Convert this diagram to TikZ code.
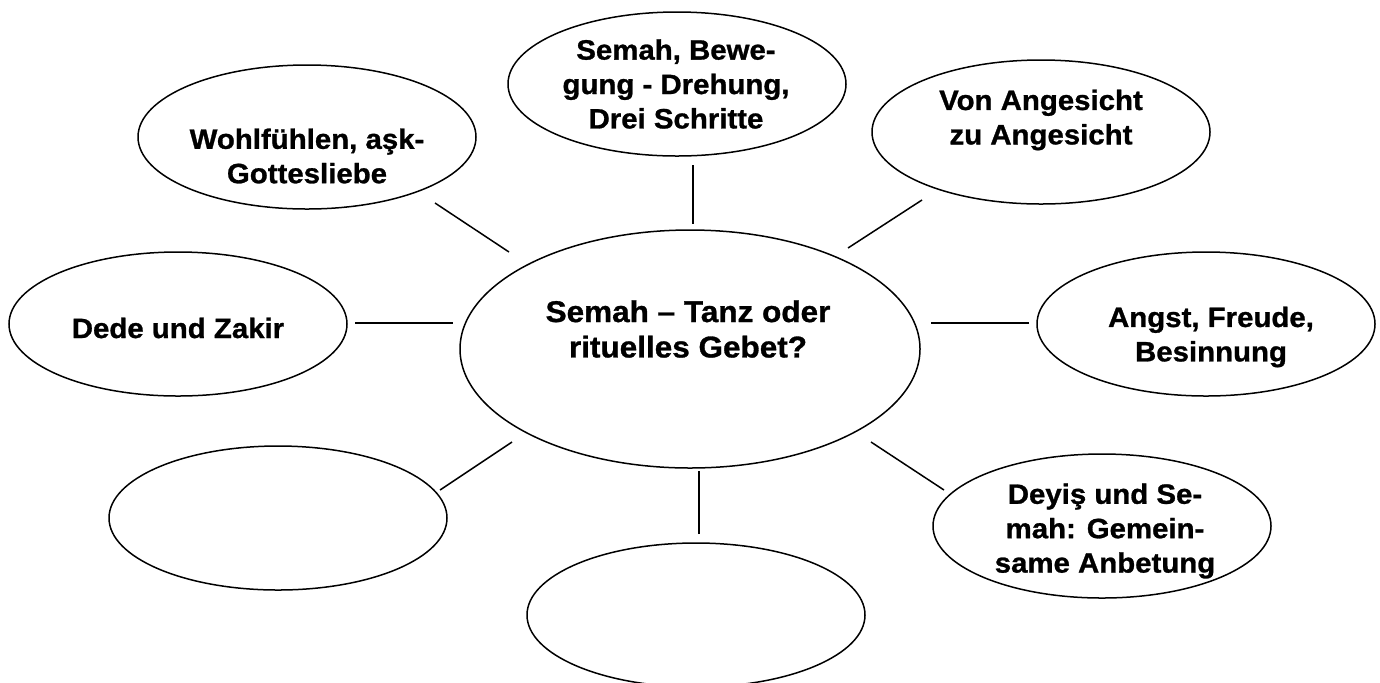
\documentclass[tikz,border=0pt]{standalone}
\usepackage{fontspec}
\setmainfont{Liberation Sans}[FakeStretch=1.05, BoldFeatures={FakeBold=1}]
\usetikzlibrary{shapes.geometric}
\tikzset{
  bub/.style={ellipse, draw, line width=0.75pt, inner sep=0pt, fill=white},
  small/.style={bub, minimum width=169pt, minimum height=72pt},
  txt/.style={align=center, inner sep=0pt, font=\bfseries\fontsize{14}{17.2}\selectfont},
  bigtxt/.style={align=center, inner sep=0pt, font=\bfseries\fontsize{15}{17.7}\selectfont},
  conn/.style={line width=0.75pt}
}
\begin{document}
\begin{tikzpicture}[x=0.5pt, y=-0.5pt]
\useasboundingbox (0,0) rectangle (1380,682);
\clip (0,0) rectangle (1380,682);
\fill[white] (0,0) rectangle (1380,682);
% ellipses
\node[small] (top) at (677,84) {};
\node[small] (wohl) at (307,137) {};
\node[small] (von) at (1041,132) {};
\node[small] (dede) at (178,324) {};
\node[small] (angst) at (1206,324) {};
\node[bub, minimum width=230pt, minimum height=119pt] (mid) at (690,349) {};
\node[small] (bl) at (278,518) {};
\node[small] (bc) at (696,615) {};
\node[small] (deyis) at (1102,526) {};
% texts
\node[txt] (ttop) at (676,84) {Semah, Bewe-\\gung - Drehung,\\Drei Schritte};
\node[txt] (twohl) at (307,156) {Wohlfühlen, aşk-\\Gottesliebe};
\node[txt] (tvon) at (1041,120) {Von Angesicht\\zu Angesicht};
\node[txt] (tdede) at (178,328) {Dede und Zakir};
\node[txt] (tangst) at (1211,337) {Angst, Freude,\\Besinnung};
\node[bigtxt] (tmid) at (688,329) {Semah – Tanz oder\\rituelles Gebet?};
\node[txt] (tdeyis) at (1105,531) {Deyiş und Se-\\mah: Gemein-\\same Anbetung};
% connector ends
\coordinate (a1) at (435,203); \coordinate (b1) at (509,252);
\coordinate (a2) at (693,165); \coordinate (b2) at (693,224);
\coordinate (a3) at (922,200); \coordinate (b3) at (848,248);
\coordinate (a4) at (355,323); \coordinate (b4) at (453,323);
\coordinate (a5) at (1029,323); \coordinate (b5) at (931,323);
\coordinate (a6) at (440,490); \coordinate (b6) at (512,442);
\coordinate (a7) at (699,534); \coordinate (b7) at (699,471);
\coordinate (a8) at (944,490); \coordinate (b8) at (871,442);
\foreach \i in {1,...,8} { \draw[conn] (a\i) -- (b\i); }
\end{tikzpicture}
\end{document}
